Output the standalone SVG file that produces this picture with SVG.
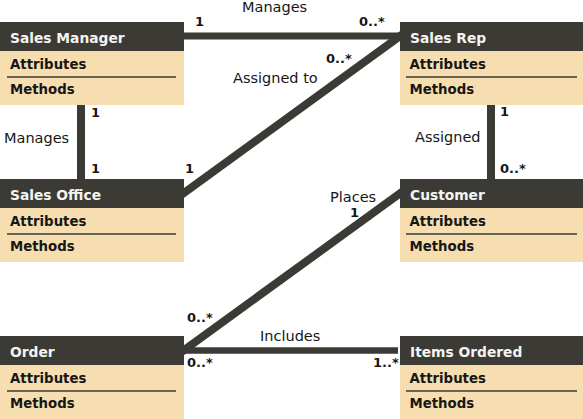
<svg xmlns="http://www.w3.org/2000/svg" width="583" height="419" viewBox="0 0 583 419">
<style>
.hd{fill:#3b3a35}
.bd{fill:#f6deb0}
.dv{stroke:#3b3a35;stroke-width:1.5}
.ht{font-family:"DejaVu Sans",sans-serif;font-weight:bold;font-size:13.8px;fill:#f4f4f2}
.bt{font-family:"DejaVu Sans",sans-serif;font-weight:bold;font-size:13.3px;fill:#161616}
.ln{stroke:#3b3a35;fill:none}
.lb{font-family:"DejaVu Sans",sans-serif;font-size:14.5px;fill:#161616}
.mu{font-family:"DejaVu Sans",sans-serif;font-weight:bold;font-size:13px;fill:#161616}
</style>
<rect width="583" height="419" fill="#ffffff"/>
<g id="connectors">
<line class="ln" x1="180" y1="36" x2="404" y2="36" stroke-width="7"/>
<line class="ln" x1="178" y1="197.3" x2="406" y2="31.7" stroke-width="8"/>
<line class="ln" x1="81" y1="100" x2="81" y2="185" stroke-width="8"/>
<line class="ln" x1="491" y1="100" x2="491" y2="185" stroke-width="8"/>
<line class="ln" x1="178" y1="354.4" x2="406" y2="189.1" stroke-width="8"/>
<line class="ln" x1="180" y1="350.5" x2="398" y2="350.5" stroke-width="6.5"/>
<text class="lb" x="242" y="12">Manages</text>
<text class="mu" x="195" y="26">1</text>
<text class="mu" x="359" y="26">0..*</text>
<text class="mu" x="326" y="63">0..*</text>
<text class="lb" x="233" y="83">Assigned to</text>
<text class="mu" x="185" y="173">1</text>
<text class="mu" x="91" y="117">1</text>
<text class="mu" x="91" y="173">1</text>
<text class="lb" x="4" y="143">Manages</text>
<text class="lb" x="415" y="142">Assigned</text>
<text class="mu" x="500" y="116">1</text>
<text class="mu" x="500" y="173">0..*</text>
<text class="lb" x="330" y="202">Places</text>
<text class="mu" x="350" y="217">1</text>
<text class="mu" x="187" y="322">0..*</text>
<text class="lb" x="260" y="341">Includes</text>
<text class="mu" x="187" y="367">0..*</text>
<text class="mu" x="373" y="367">1..*</text>
</g>
<g id="sales-manager">
<rect class="bd" x="0" y="22" width="184" height="83"/>
<rect class="hd" x="0" y="22" width="184" height="29"/>
<line class="dv" x1="7" y1="77" x2="176" y2="77"/>
<text class="ht" x="10" y="43">Sales Manager</text>
<text class="bt" x="10" y="68.5">Attributes</text>
<text class="bt" x="10" y="94">Methods</text>
</g>
<g id="sales-rep">
<rect class="bd" x="400" y="22" width="183" height="83"/>
<rect class="hd" x="400" y="22" width="183" height="29"/>
<line class="dv" x1="406" y1="77" x2="577" y2="77"/>
<text class="ht" x="410" y="43">Sales Rep</text>
<text class="bt" x="409.5" y="68.5">Attributes</text>
<text class="bt" x="409.5" y="94">Methods</text>
</g>
<g id="sales-office">
<rect class="bd" x="0" y="179" width="184" height="83"/>
<rect class="hd" x="0" y="179" width="184" height="29"/>
<line class="dv" x1="7" y1="234" x2="176" y2="234"/>
<text class="ht" x="10" y="200">Sales Office</text>
<text class="bt" x="10" y="225.5">Attributes</text>
<text class="bt" x="10" y="251">Methods</text>
</g>
<g id="customer">
<rect class="bd" x="400" y="179" width="183" height="83"/>
<rect class="hd" x="400" y="179" width="183" height="29"/>
<line class="dv" x1="406" y1="234" x2="577" y2="234"/>
<text class="ht" x="410" y="200">Customer</text>
<text class="bt" x="409.5" y="225.5">Attributes</text>
<text class="bt" x="409.5" y="251">Methods</text>
</g>
<g id="order">
<rect class="bd" x="0" y="336" width="184" height="83"/>
<rect class="hd" x="0" y="336" width="184" height="29"/>
<line class="dv" x1="7" y1="391" x2="176" y2="391"/>
<text class="ht" x="10" y="357">Order</text>
<text class="bt" x="10" y="382.5">Attributes</text>
<text class="bt" x="10" y="408">Methods</text>
</g>
<g id="items-ordered">
<rect class="bd" x="400" y="336" width="183" height="83"/>
<rect class="hd" x="400" y="336" width="183" height="29"/>
<line class="dv" x1="406" y1="391" x2="577" y2="391"/>
<text class="ht" x="410" y="357">Items Ordered</text>
<text class="bt" x="409.5" y="382.5">Attributes</text>
<text class="bt" x="409.5" y="408">Methods</text>
</g>
</svg>
